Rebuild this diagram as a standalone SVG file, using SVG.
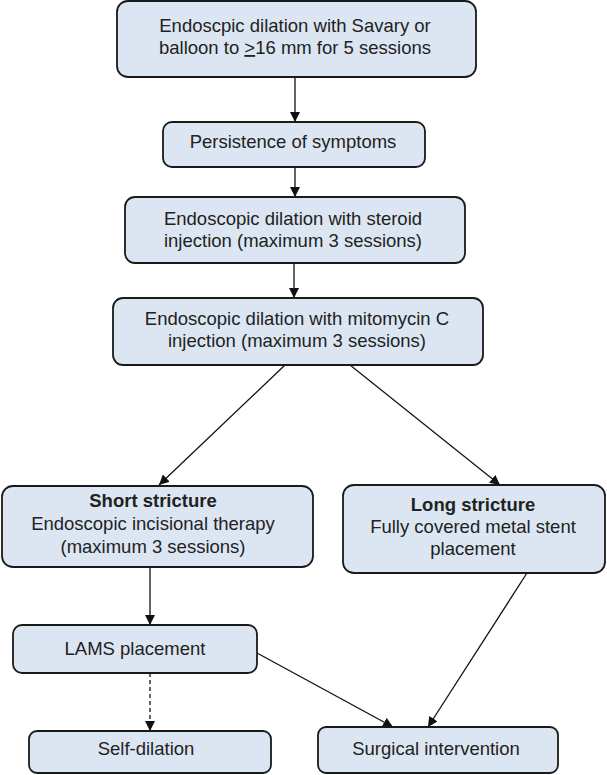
<svg xmlns="http://www.w3.org/2000/svg" width="607" height="775" viewBox="0 0 607 775">
<style>
.box{fill:#dce6f3;stroke:#1a1a1a;stroke-width:1.8}
text{font-family:"Liberation Sans",Arial,sans-serif;font-size:18.5px;fill:#222;text-anchor:middle}
.b{font-weight:bold}
.c{fill:none;stroke:#111;stroke-width:1.3}
.d{stroke-dasharray:4 3}
</style>
<defs>
<marker id="ah" viewBox="0 0 10 10" refX="10" refY="5" markerWidth="10" markerHeight="10" markerUnits="userSpaceOnUse" orient="auto">
<path d="M0,0 L10,5 L0,10 z" fill="#111"/>
</marker>
</defs>
<rect width="607" height="775" fill="#fff"/>
<g id="connectors">
<line class="c" x1="295" y1="77" x2="295" y2="122" marker-end="url(#ah)"/>
<line class="c" x1="295" y1="167" x2="295" y2="197" marker-end="url(#ah)"/>
<line class="c" x1="294" y1="263" x2="294" y2="298" marker-end="url(#ah)"/>
<line class="c" x1="285" y1="365" x2="159" y2="485" marker-end="url(#ah)"/>
<line class="c" x1="350" y1="365" x2="500" y2="485" marker-end="url(#ah)"/>
<line class="c" x1="150" y1="567" x2="150" y2="625" marker-end="url(#ah)"/>
<line class="c d" x1="150" y1="673" x2="150" y2="731" marker-end="url(#ah)"/>
<line class="c" x1="257" y1="653" x2="393" y2="727" marker-end="url(#ah)"/>
<line class="c" x1="527" y1="573" x2="428" y2="727" marker-end="url(#ah)"/>
</g>
<g id="n1">
<rect class="box" x="117" y="1" width="359" height="76" rx="11"/>
<text x="295" y="32">Endoscpic dilation with Savary or</text>
<text x="295" y="54">balloon to <tspan text-decoration="underline">&gt;</tspan>16 mm for 5 sessions</text>
</g>
<g id="n2">
<rect class="box" x="163" y="122" width="262" height="45" rx="9"/>
<text x="293" y="148">Persistence of symptoms</text>
</g>
<g id="n3">
<rect class="box" x="125" y="197" width="340" height="66" rx="10"/>
<text x="293" y="225">Endoscopic dilation with steroid</text>
<text x="293" y="247">injection (maximum 3 sessions)</text>
</g>
<g id="n4">
<rect class="box" x="113" y="298" width="370" height="67" rx="10"/>
<text x="297" y="325">Endoscopic dilation with mitomycin C</text>
<text x="297" y="347">injection (maximum 3 sessions)</text>
</g>
<g id="n5">
<rect class="box" x="2" y="486" width="311" height="81" rx="11"/>
<text class="b" x="153" y="507">Short stricture</text>
<text x="153" y="530">Endoscopic incisional therapy</text>
<text x="153" y="553">(maximum 3 sessions)</text>
</g>
<g id="n6">
<rect class="box" x="343" y="485" width="262" height="88" rx="11"/>
<text class="b" x="473" y="511">Long stricture</text>
<text x="473" y="533">Fully covered metal stent</text>
<text x="473" y="555">placement</text>
</g>
<g id="n7">
<rect class="box" x="13" y="625" width="244" height="48" rx="9"/>
<text x="135" y="655">LAMS placement</text>
</g>
<g id="n8">
<rect class="box" x="29" y="731" width="242" height="42" rx="8"/>
<text x="146" y="755">Self-dilation</text>
</g>
<g id="n9">
<rect class="box" x="318" y="727" width="240" height="46" rx="8"/>
<text x="436" y="755">Surgical intervention</text>
</g>
</svg>
